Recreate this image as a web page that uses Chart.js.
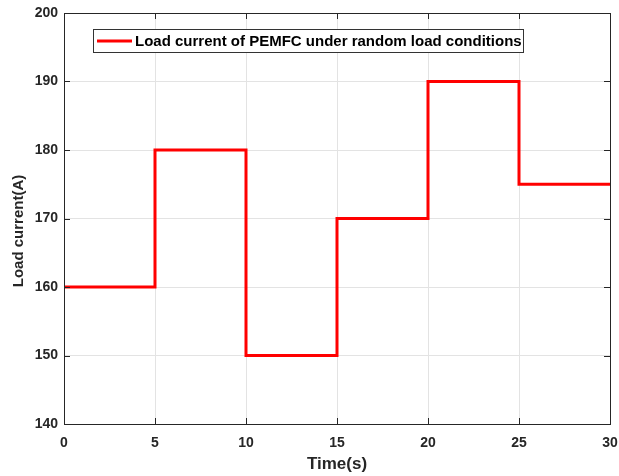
<!DOCTYPE html>
<html>
<head>
<meta charset="utf-8">
<script src="https://cdn.jsdelivr.net/npm/chart.js@4"></script>
<style>
  html, body { margin: 0; padding: 0; background: #fff; }
  #wrap { width: 619px; height: 476px; }
</style>
</head>
<body>
<div id="wrap"><canvas id="chart" width="619" height="476"></canvas></div>
<script>
// data
const times = [0, 5, 10, 15, 20, 25, 30];
const currents = [160, 180, 150, 170, 190, 175, 175];
const xTicks = [0, 5, 10, 15, 20, 25, 30];
const yTicks = [140, 150, 160, 170, 180, 190, 200];
const seriesLabel = "Load current of PEMFC under random load conditions";
const yTitle = "Load current(A)";

const FONT = "'Liberation Sans', Arial, sans-serif";
const INK = "#262626";

// frame + inward ticks + y title + legend box, MATLAB style
const matlabAxes = {
  id: "matlabAxes",
  afterDraw(chart) {
    const { ctx, chartArea: a, scales } = chart;
    ctx.save();
    ctx.strokeStyle = INK;
    ctx.lineWidth = 1;
    ctx.beginPath();
    xTicks.forEach(v => {
      const x = Math.round(scales.x.getPixelForValue(v)) + 0.5;
      ctx.moveTo(x, a.bottom); ctx.lineTo(x, a.bottom - 6);
      ctx.moveTo(x, a.top); ctx.lineTo(x, a.top + 6);
    });
    yTicks.forEach(v => {
      const y = Math.round(scales.y.getPixelForValue(v)) + 0.5;
      ctx.moveTo(a.left, y); ctx.lineTo(a.left + 6, y);
      ctx.moveTo(a.right, y); ctx.lineTo(a.right - 6, y);
    });
    ctx.stroke();
    ctx.strokeRect(Math.round(a.left) + 0.5, Math.round(a.top) + 0.5, Math.round(a.right - a.left), Math.round(a.bottom - a.top));

    // y axis title (sits a bit below the axis middle in the original)
    ctx.save();
    ctx.translate(19, 231);
    ctx.rotate(-Math.PI / 2);
    ctx.fillStyle = INK;
    ctx.font = "bold 15px " + FONT;
    ctx.textAlign = "center";
    ctx.textBaseline = "middle";
    ctx.fillText(yTitle, 0, 0);
    ctx.restore();

    // legend
    const ds = chart.data.datasets[0];
    const bx = 93.5, by = 29.5, bw = 430, bh = 23;
    ctx.fillStyle = "#fff";
    ctx.fillRect(bx, by, bw, bh);
    ctx.strokeStyle = "#333";
    ctx.strokeRect(bx, by, bw, bh);
    ctx.strokeStyle = ds.borderColor;
    ctx.lineWidth = 3;
    ctx.beginPath();
    ctx.moveTo(97, by + bh / 2); ctx.lineTo(132, by + bh / 2);
    ctx.stroke();
    ctx.fillStyle = "#000";
    ctx.font = "bold 15px " + FONT;
    ctx.textBaseline = "middle";
    ctx.fillText(ds.label, 135, by + bh / 2 + 1);
    ctx.restore();
  }
};

new Chart(document.getElementById("chart"), {
  type: "line",
  data: {
    datasets: [{
      label: seriesLabel,
      data: times.map((t, i) => ({ x: t, y: currents[i] })),
      borderColor: "#ff0000",
      borderWidth: 3,
      stepped: "before",
      pointRadius: 0,
      fill: false
    }]
  },
  options: {
    responsive: false,
    animation: false,
    layout: { padding: { left: 0, top: 12, right: 9, bottom: 0 } },
    plugins: { legend: { display: false }, tooltip: { enabled: false } },
    scales: {
      x: {
        type: "linear", min: 0, max: 30,
        afterBuildTicks: s => { s.ticks = xTicks.map(v => ({ value: v })); },
        afterFit: s => { s.height = 52; s.paddingRight = 0; s.paddingLeft = 0; },
        grid: { color: "#e3e3e3", drawTicks: false },
        border: { display: false },
        ticks: { color: INK, font: { family: FONT, size: 14, weight: "bold" }, padding: 11, maxRotation: 0 },
        title: { display: true, text: "Time(s)", color: INK, font: { family: FONT, size: 17, weight: "bold" }, padding: { top: 0, bottom: 1 } }
      },
      y: {
        min: 140, max: 200,
        afterBuildTicks: s => { s.ticks = yTicks.map(v => ({ value: v })); },
        afterFit: s => { s.width = 64; },
        grid: { color: "#e3e3e3", drawTicks: false },
        border: { display: false },
        ticks: { color: INK, font: { family: FONT, size: 14, weight: "bold", lineHeight: 1 }, padding: 6 }
      }
    }
  },
  plugins: [matlabAxes]
});
</script>
</body>
</html>
